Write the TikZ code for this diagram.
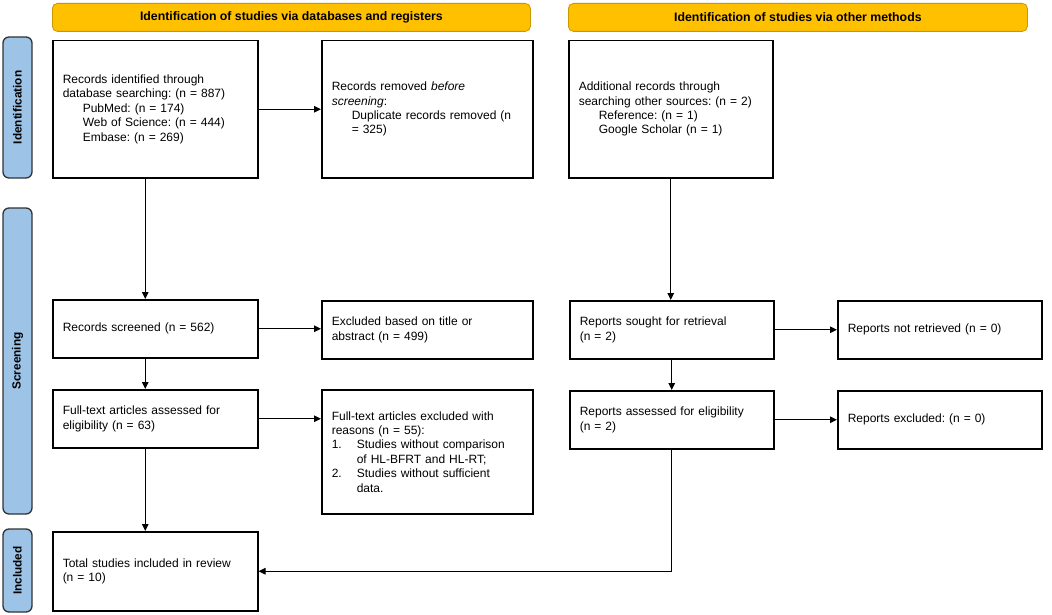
\documentclass[tikz,border=0pt]{standalone}
\usepackage{fontspec}
\setmainfont{Liberation Sans}
\usetikzlibrary{positioning,arrows.meta,calc}
\frenchspacing
\definecolor{bannergold}{HTML}{FFC000}
\definecolor{bannerrim}{HTML}{C99700}
\definecolor{phaseblue}{HTML}{9DC3E6}
\newcommand{\pind}{\hspace*{20pt}}
\newcommand{\pnum}[1]{\makebox[25pt][l]{#1}}
\tikzset{
  >={Triangle[length=7pt,width=6.5pt]},
  x=1pt,y=-1pt,
  recbox/.style={draw=black,line width=1.5pt,anchor=north west,align=left,
    inner xsep=10pt,inner ysep=0pt,text width=#1,
    font=\fontsize{12}{14.4}\selectfont},
  banner/.style={draw=bannerrim,fill=bannergold,line width=0.8pt,rounded corners=5pt,
    anchor=north west,minimum height=28pt,inner sep=0pt,
    font=\fontsize{12.3}{14}\selectfont\bfseries},
  phase/.style={draw=black!80,fill=phaseblue,line width=1.3pt,rounded corners=6pt,
    rotate=90,minimum height=29pt,inner sep=0pt,
    font=\fontsize{11.8}{14}\selectfont\bfseries},
  flow/.style={->,line width=1pt},
}
\begin{document}
\begin{tikzpicture}
  \fill[white] (0,0) rectangle (1052,615);
  \useasboundingbox (0,0) rectangle (1052,615);

  % banners and phases
  \node[banner,minimum width=478pt] (banDb) at (52,3)
    {Identification of studies via databases and registers};
  \node[banner,minimum width=459pt] (banOth) at (568,3)
    {Identification of studies via other methods};
  \node[phase,minimum width=141pt] (phId) at (17.5,107.5) {Identification};
  \node[phase,minimum width=306pt] (phScr) at (17.5,361) {Screening};
  \node[phase,minimum width=83pt] (phInc) at (17.5,570.5) {Included};

  % identification
  \node[recbox=185pt,minimum height=137pt] (recId) at (52,40)
    {Records identified through\\database searching: (n = 887)\\
     \pind PubMed: (n = 174)\\\pind Web of Science: (n = 444)\\
     \pind Embase: (n = 269)};
  \node[recbox=191pt,minimum height=137pt] (recRem) at (321,40)
    {Records removed \emph{before}\\\emph{screening}:\\
     \pind Duplicate records removed (n\\\pind = 325)};
  \node[recbox=184pt,minimum height=137pt] (recOth) at (568,40)
    {Additional records through\\searching other sources: (n = 2)\\
     \pind Reference: (n = 1)\\\pind Google Scholar (n = 1)};

  % screening
  \node[recbox=185pt,minimum height=58pt] (recScr) at (52,299)
    {Records screened (n = 562)};
  \node[recbox=191pt,minimum height=58pt] (excTit) at (321,300)
    {Excluded based on title or\\abstract (n = 499)};
  \node[recbox=185pt,minimum height=58pt] (ftAss) at (52,389)
    {Full-text articles assessed for\\eligibility (n = 63)};
  \node[recbox=191pt,minimum height=124pt] (ftExc) at (321,389)
    {Full-text articles excluded with\\reasons (n = 55):\\
     \pnum{1.}Studies without comparison\\\hspace*{25pt}of HL-BFRT and HL-RT;\\
     \pnum{2.}Studies without sufficient\\\hspace*{25pt}data.};
  \node[recbox=184pt,minimum height=58pt] (repSou) at (569,300)
    {Reports sought for retrieval\\(n = 2)};
  \node[recbox=184pt,minimum height=58pt] (repNot) at (837,300)
    {Reports not retrieved (n = 0)};
  \node[recbox=184pt,minimum height=58pt] (repAss) at (569,390)
    {Reports assessed for eligibility\\(n = 2)};
  \node[recbox=184pt,minimum height=58pt] (repExc) at (837,390)
    {Reports excluded: (n = 0)};

  % included
  \node[recbox=185pt,minimum height=79pt] (total) at (52,531)
    {Total studies included in review\\(n = 10)};

  % connectors
  \draw[flow] (recId.east) -- (recId.east -| recRem.west);
  \draw[flow] ([xshift=-10pt]recId.south) -- ([xshift=-10pt]recScr.north);
  \draw[flow] (recOth.south) -- (recOth.south |- repSou.north);
  \draw[flow] (recScr.east) -- (recScr.east -| excTit.west);
  \draw[flow] ([xshift=-10pt]recScr.south) -- ([xshift=-10pt]ftAss.north);
  \draw[flow] (ftAss.east) -- (ftAss.east -| ftExc.west);
  \draw[flow] ([xshift=-10pt]ftAss.south) -- ([xshift=-10pt]total.north);
  \draw[flow] (repSou.east) -- (repSou.east -| repNot.west);
  \draw[flow] (repSou.south) -- (repAss.north);
  \draw[flow] (repAss.east) -- (repAss.east -| repExc.west);
  \draw[flow] (repAss.south) |- (total.east);
\end{tikzpicture}
\end{document}
